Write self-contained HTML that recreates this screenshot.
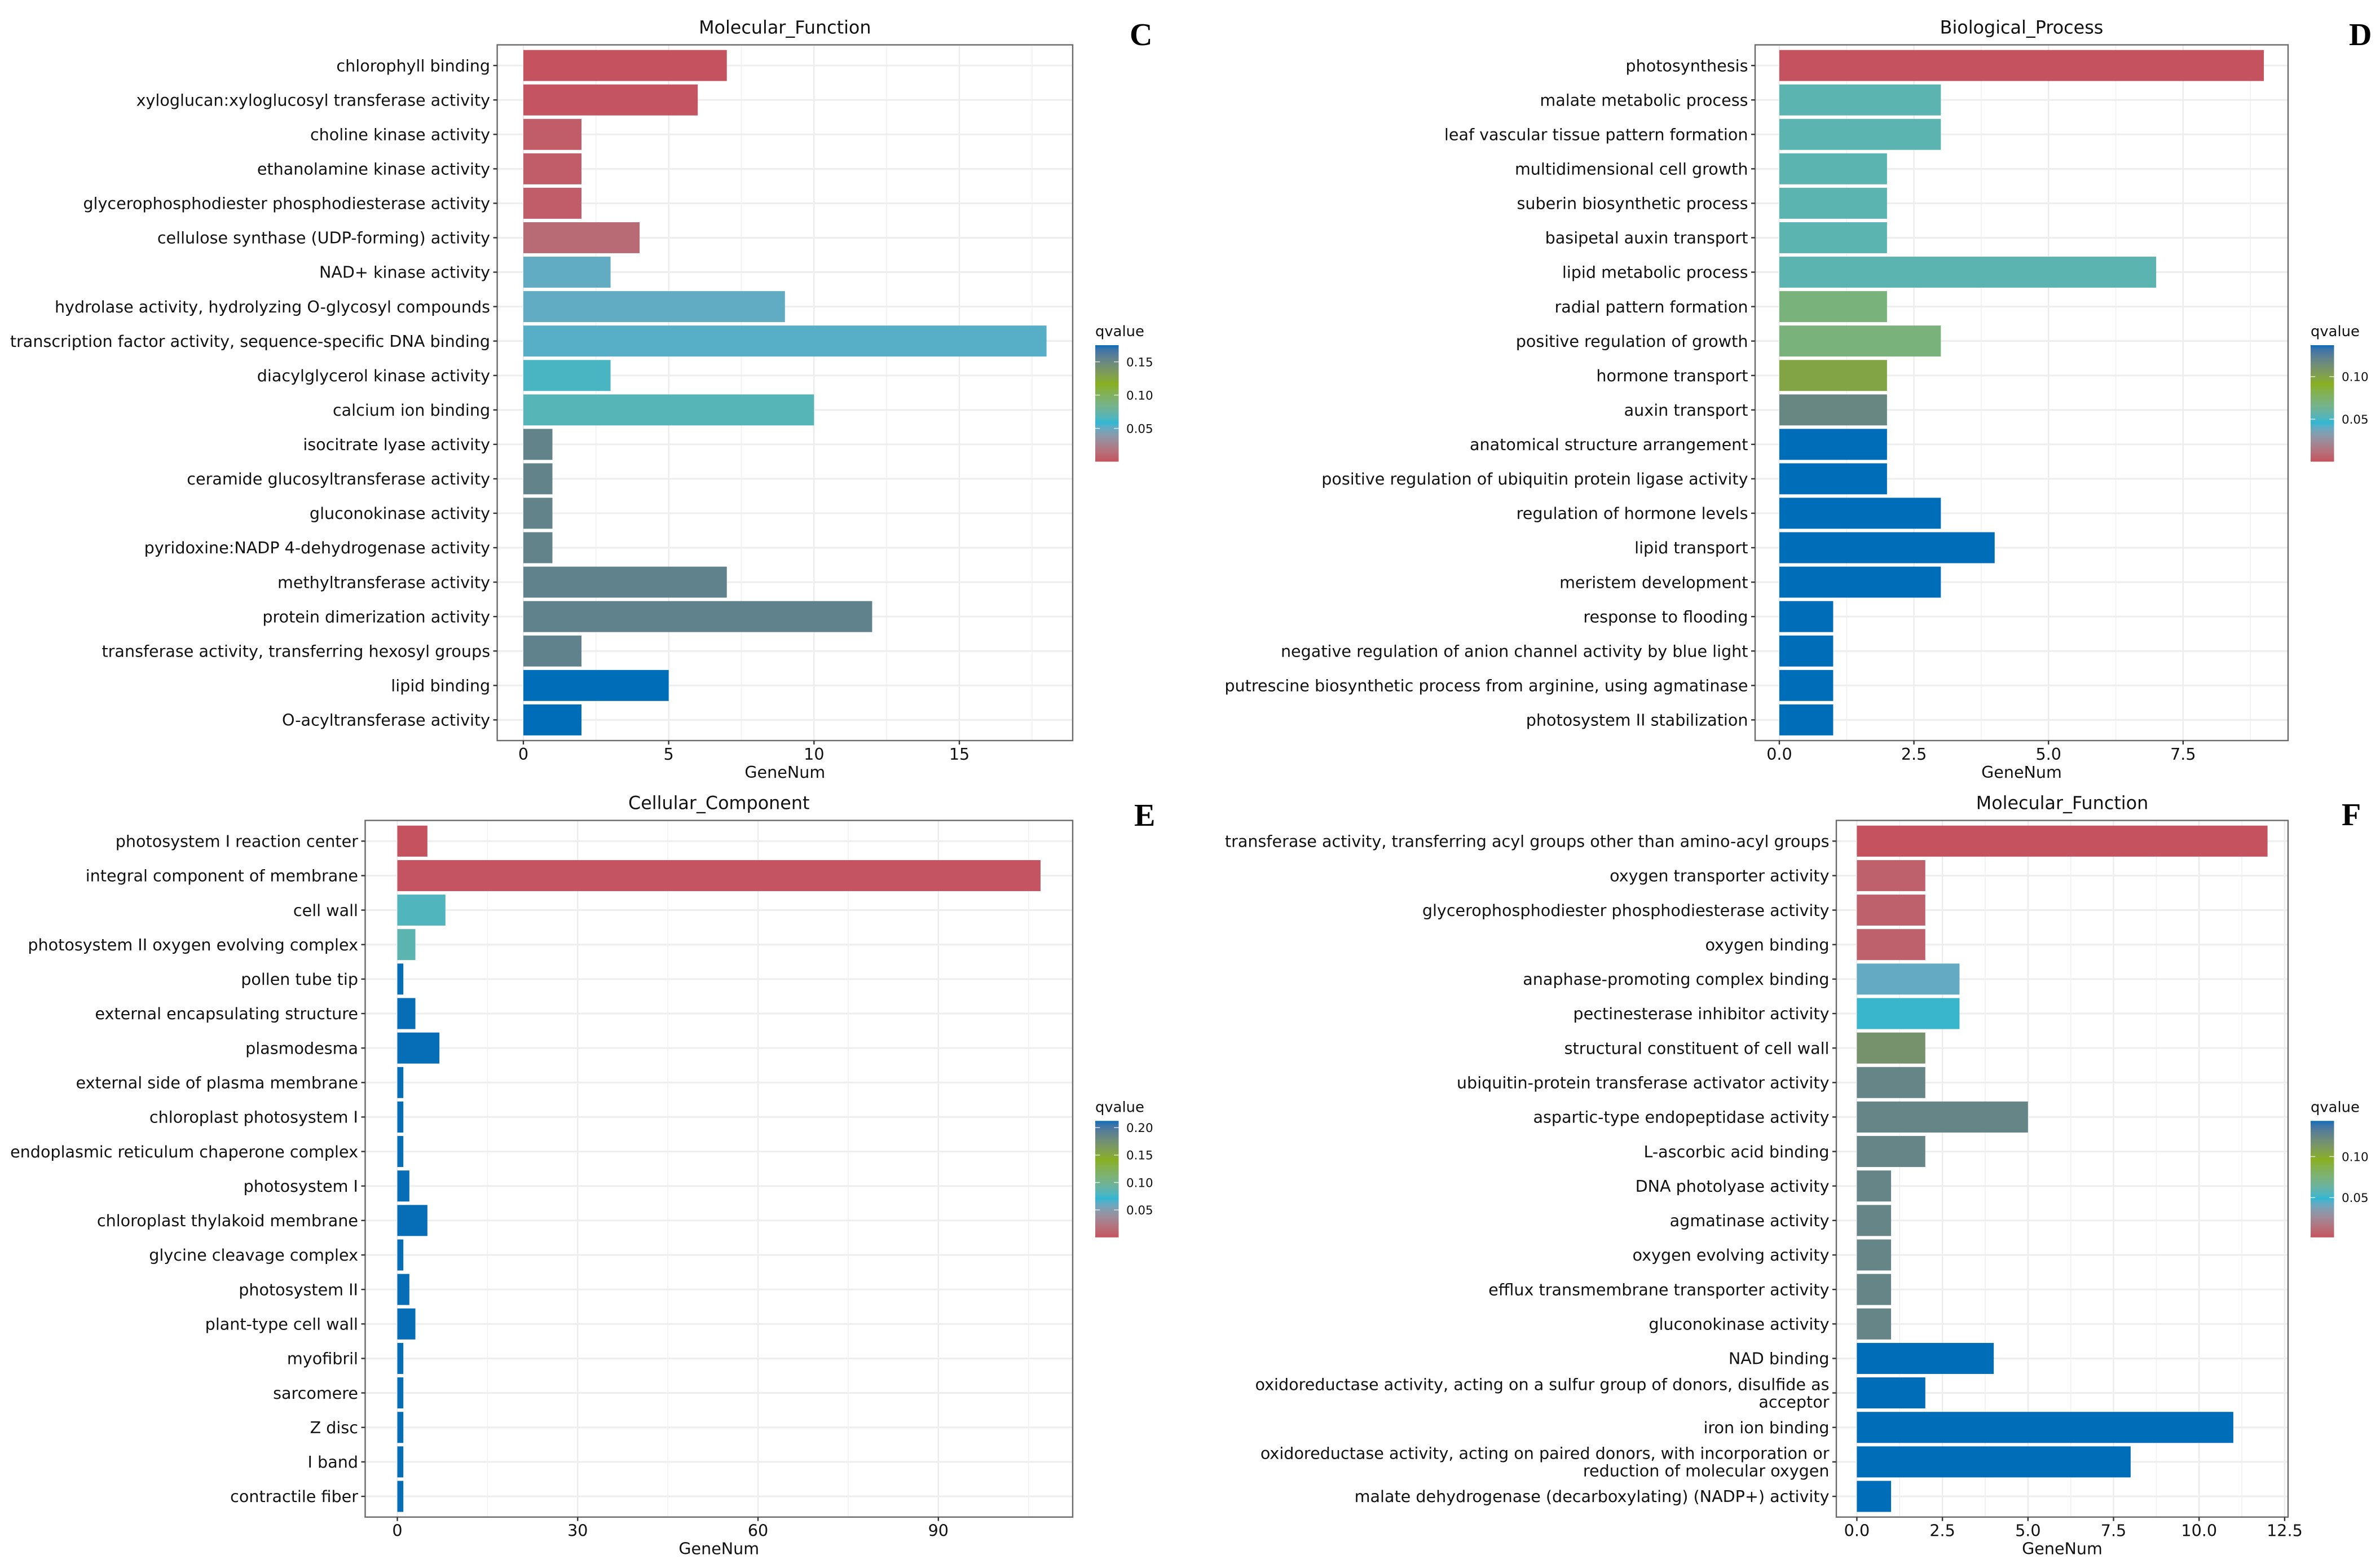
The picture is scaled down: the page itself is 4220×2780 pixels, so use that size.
<!DOCTYPE html>
<html lang="en">
<head>
<meta charset="utf-8">
<title>GO enrichment bar charts</title>
<style>
html,body{margin:0;padding:0;background:#fff;}
svg{display:block;}
text{font-family:"DejaVu Sans",sans-serif;fill:#111;}
.panel-letter{font-family:"Liberation Serif",serif;font-weight:bold;fill:#000;}
</style>
</head>
<body>
<svg id="figure" xmlns="http://www.w3.org/2000/svg" width="4220" height="2780" viewBox="0 0 4220 2780">
  <rect x="0" y="0" width="4220" height="2780" fill="#ffffff"></rect>
  <defs id="defs"></defs>
  <text class="panel-letter" x="2003" y="80" font-size="56">C</text>
  <text class="panel-letter" x="4165" y="80" font-size="56">D</text>
  <text class="panel-letter" x="2011" y="1464" font-size="56">E</text>
  <text class="panel-letter" x="4152" y="1463" font-size="56">F</text>
</svg>
<script>
// ---------- Panel C data ----------
const cCategories = [
  "chlorophyll binding","xyloglucan:xyloglucosyl transferase activity","choline kinase activity",
  "ethanolamine kinase activity","glycerophosphodiester phosphodiesterase activity",
  "cellulose synthase (UDP-forming) activity","NAD+ kinase activity",
  "hydrolase activity, hydrolyzing O-glycosyl compounds",
  "transcription factor activity, sequence-specific DNA binding","diacylglycerol kinase activity",
  "calcium ion binding","isocitrate lyase activity","ceramide glucosyltransferase activity",
  "gluconokinase activity","pyridoxine:NADP 4-dehydrogenase activity","methyltransferase activity",
  "protein dimerization activity","transferase activity, transferring hexosyl groups",
  "lipid binding","O-acyltransferase activity"];
const cValues = [7,6,2,2,2,4,3,9,18,3,10,1,1,1,1,7,12,2,5,2];
const cQvalues = [0,0.001,0.005,0.005,0.005,0.012,0.051,0.051,0.053,0.064,0.068,0.154,0.154,0.154,0.154,0.155,0.155,0.155,0.175,0.175];
const cXTicks = [0,5,10,15];
const cXTickLabels = ["0","5","10","15"];
const cLegendTicks = [0.05,0.10,0.15];
const cLegendTickLabels = ["0.05","0.10","0.15"];

// ---------- Panel D data ----------
const dCategories = [
  "photosynthesis","malate metabolic process","leaf vascular tissue pattern formation",
  "multidimensional cell growth","suberin biosynthetic process","basipetal auxin transport",
  "lipid metabolic process","radial pattern formation","positive regulation of growth",
  "hormone transport","auxin transport","anatomical structure arrangement",
  "positive regulation of ubiquitin protein ligase activity","regulation of hormone levels",
  "lipid transport","meristem development","response to flooding",
  "negative regulation of anion channel activity by blue light",
  "putrescine biosynthetic process from arginine, using agmatinase","photosystem II stabilization"];
const dValues = [9,3,3,2,2,2,7,2,3,2,2,2,2,3,4,3,1,1,1,1];
const dQvalues = [0,0.055,0.055,0.055,0.055,0.055,0.055,0.070,0.070,0.099,0.118,0.137,0.137,0.137,0.137,0.137,0.137,0.137,0.137,0.137];
const dXTicks = [0,2.5,5,7.5];
const dXTickLabels = ["0.0","2.5","5.0","7.5"];
const dLegendTicks = [0.05,0.10];
const dLegendTickLabels = ["0.05","0.10"];

// ---------- Panel E data ----------
const eCategories = [
  "photosystem I reaction center","integral component of membrane","cell wall",
  "photosystem II oxygen evolving complex","pollen tube tip","external encapsulating structure",
  "plasmodesma","external side of plasma membrane","chloroplast photosystem I",
  "endoplasmic reticulum chaperone complex","photosystem I","chloroplast thylakoid membrane",
  "glycine cleavage complex","photosystem II","plant-type cell wall","myofibril","sarcomere",
  "Z disc","I band","contractile fiber"];
const eValues = [5,107,8,3,1,3,7,1,1,1,2,5,1,2,3,1,1,1,1,1];
const eQvalues = [0,0.001,0.080,0.085,0.212,0.212,0.212,0.212,0.212,0.212,0.212,0.212,0.212,0.212,0.212,0.212,0.212,0.212,0.212,0.212];
const eXTicks = [0,30,60,90];
const eXTickLabels = ["0","30","60","90"];
const eLegendTicks = [0.05,0.10,0.15,0.20];
const eLegendTickLabels = ["0.05","0.10","0.15","0.20"];

// ---------- Panel F data ----------
const fCategories = [
  "transferase activity, transferring acyl groups other than amino-acyl groups",
  "oxygen transporter activity","glycerophosphodiester phosphodiesterase activity","oxygen binding",
  "anaphase-promoting complex binding","pectinesterase inhibitor activity",
  "structural constituent of cell wall","ubiquitin-protein transferase activator activity",
  "aspartic-type endopeptidase activity","L-ascorbic acid binding","DNA photolyase activity",
  "agmatinase activity","oxygen evolving activity","efflux transmembrane transporter activity",
  "gluconokinase activity","NAD binding",
  "oxidoreductase activity, acting on a sulfur group of donors, disulfide as\nacceptor",
  "iron ion binding",
  "oxidoreductase activity, acting on paired donors, with incorporation or\nreduction of molecular oxygen",
  "malate dehydrogenase (decarboxylating) (NADP+) activity"];
const fValues = [12,2,2,2,3,3,2,2,5,2,1,1,1,1,1,4,2,11,8,1];
const fQvalues = [0.0016,0.0073,0.0073,0.0073,0.0425,0.0505,0.116,0.125,0.125,0.125,0.125,0.125,0.125,0.125,0.125,0.1434,0.1434,0.1434,0.1434,0.1434];
const fXTicks = [0,2.5,5,7.5,10,12.5];
const fXTickLabels = ["0.0","2.5","5.0","7.5","10.0","12.5"];
const fLegendTicks = [0.05,0.10];
const fLegendTickLabels = ["0.05","0.10"];

// Colour ramp anchors of the qvalue scale (low to high)
const rampColors = ["#c5525f","#2eb6d2","#88b01f","#006db8"];

const SVG_NS = "http://www.w3.org/2000/svg";
const figure = document.getElementById("figure");
const defs = document.getElementById("defs");

function make(tag, parent, geom) {
  const el = document.createElementNS(SVG_NS, tag);
  for (const k in geom) el.setAttribute(k, geom[k]);
  parent.appendChild(el);
  return el;
}

// --- Lab colour interpolation (ggplot-style gradientn) ---
function hexToLab(hex) {
  const c = [1,3,5].map(i => parseInt(hex.substr(i,2),16)/255)
    .map(v => v <= 0.04045 ? v/12.92 : Math.pow((v+0.055)/1.055,2.4));
  const X = (0.4124*c[0]+0.3576*c[1]+0.1805*c[2])/0.95047;
  const Y = 0.2126*c[0]+0.7152*c[1]+0.0722*c[2];
  const Z = (0.0193*c[0]+0.1192*c[1]+0.9505*c[2])/1.08883;
  const f = t => t > 0.008856 ? Math.cbrt(t) : 7.787*t+16/116;
  return [116*f(Y)-16, 500*(f(X)-f(Y)), 200*(f(Y)-f(Z))];
}
function labToRgb(lab) {
  const fy = (lab[0]+16)/116, fx = fy+lab[1]/500, fz = fy-lab[2]/200;
  const g = t => t*t*t > 0.008856 ? t*t*t : (t-16/116)/7.787;
  const X = g(fx)*0.95047, Y = g(fy), Z = g(fz)*1.08883;
  const l = [3.2406*X-1.5372*Y-0.4986*Z, -0.9689*X+1.8758*Y+0.0415*Z, 0.0557*X-0.2040*Y+1.0570*Z];
  const out = l.map(v => {
    const s = v <= 0.0031308 ? 12.92*v : 1.055*Math.pow(Math.max(v,0),1/2.4)-0.055;
    return Math.round(Math.min(1,Math.max(0,s))*255);
  });
  return "rgb("+out.join(",")+")";
}
const rampLab = rampColors.map(hexToLab);
function rampColor(t) {
  const tt = Math.min(1,Math.max(0,t))*(rampLab.length-1);
  const i = Math.min(Math.floor(tt), rampLab.length-2);
  const f = tt-i;
  return labToRgb(rampLab[i].map((v,k) => v+(rampLab[i+1][k]-v)*f));
}

function drawPanel(cfg) {
  const g = make("g", figure, {});
  
  

  const n = cfg.categories.length;
  const maxV = Math.max.apply(null, cfg.values);
  const lo = -0.05*maxV, hi = 1.05*maxV;
  const xScale = v => cfg.left + (v-lo)/(hi-lo)*(cfg.right-cfg.left);
  const step = (cfg.bottom-cfg.top)/(n-1+1.2);
  const yScale = i => cfg.top + 0.6*step + i*step;
  const qScale = q => (q-cfg.qMin)/(cfg.qMax-cfg.qMin);

  // panel background
  const bg = make("rect", g, {x:cfg.left,y:cfg.top,width:cfg.right-cfg.left,height:cfg.bottom-cfg.top,fill:"#fff"});
  
  

  // minor vertical grid
  const tickStep = cfg.xTicks[1]-cfg.xTicks[0];
  cfg.xTicks.concat([cfg.xTicks[cfg.xTicks.length-1]+tickStep]).forEach(t => {
    const m = t-tickStep/2;
    if (m < lo || m > hi) return;
    const line = make("line", g, {x1:xScale(m),x2:xScale(m),y1:cfg.top,y2:cfg.bottom,stroke:"#f1f1f1","stroke-width":1.6});
    
    
  });
  // major vertical grid
  cfg.xTicks.forEach(t => {
    const line = make("line", g, {x1:xScale(t),x2:xScale(t),y1:cfg.top,y2:cfg.bottom,stroke:"#ececec","stroke-width":2.4});
    
    
  });
  // horizontal grid
  cfg.categories.forEach((c,i) => {
    const line = make("line", g, {x1:cfg.left,x2:cfg.right,y1:yScale(i),y2:yScale(i),stroke:"#eeeeee","stroke-width":3});
    
    
  });

  // bars
  const barH = 0.9*step;
  cfg.values.forEach((v,i) => {
    const bar = make("rect", g, {
      x:xScale(0), y:yScale(i)-barH/2, width:xScale(v)-xScale(0), height:barH,
      fill:rampColor(qScale(cfg.qvalues[i]))
    });
    
    
  });

  // border
  const border = make("rect", g, {x:cfg.left,y:cfg.top,width:cfg.right-cfg.left,height:cfg.bottom-cfg.top,fill:"none",stroke:"#6a6a6a","stroke-width":2.4});
  
  

  // y ticks + labels
  cfg.categories.forEach((c,i) => {
    const y = yScale(i);
    const tick = make("line", g, {x1:cfg.left-7,x2:cfg.left,y1:y,y2:y,stroke:"#333","stroke-width":2.4});
    
    
    const label = make("text", g, {x:cfg.left-12.5,"text-anchor":"end","font-size":cfg.fontSize});
    
    
    const lines = c.split("\n");
    const lh = 31;
    lines.forEach((ln,k) => {
      const ts = make("tspan", label, {x:cfg.left-12.5, y:y+10.2+(k-(lines.length-1)/2)*lh});
      ts.textContent = ln;
    });
  });

  // x ticks + labels
  cfg.xTicks.forEach((t,i) => {
    const x = xScale(t);
    const tick = make("line", g, {x1:x,x2:x,y1:cfg.bottom,y2:cfg.bottom+7,stroke:"#333","stroke-width":2.4});
    
    
    const label = make("text", g, {x:x,y:cfg.bottom+34,"text-anchor":"middle","font-size":cfg.fontSize});
    
    
    label.textContent = cfg.xTickLabels[i];
  });

  // axis title + panel title
  const cx = (cfg.left+cfg.right)/2;
  const xTitle = make("text", g, {x:cx,y:cfg.bottom+66,"text-anchor":"middle","font-size":cfg.fontSize});
  
  
  xTitle.textContent = "GeneNum";
  const title = make("text", g, {x:cx,y:cfg.top-20,"text-anchor":"middle","font-size":31.8});
  
  
  title.textContent = cfg.title;

  // legend
  const gradId = cfg.name + "-ramp";
  const grad = make("linearGradient", defs, {id:gradId,x1:0,y1:1,x2:0,y2:0});
  for (let s = 0; s <= 60; s++) {
    make("stop", grad, {offset:(s/60).toFixed(4),"stop-color":rampColor(s/60)});
  }
  const lx = cfg.right+40, lw = 41.5;
  const ltop = cfg.top + cfg.legendOffset, lh = 206.5;
  const lScale = q => ltop+lh-qScale(q)*lh;
  const lTitle = make("text", g, {x:lx,y:ltop-16,"font-size":25.8});
  
  
  lTitle.textContent = "qvalue";
  const bar = make("rect", g, {x:lx,y:ltop,width:lw,height:lh,fill:"url(#"+gradId+")"});
  
  
  cfg.legendTicks.forEach((q,i) => {
    const y = lScale(q);
    const t1 = make("line", g, {x1:lx,x2:lx+8.3,y1:y,y2:y,stroke:"#fff","stroke-width":1.5,"stroke-opacity":0.75});
    
    
    const t2 = make("line", g, {x1:lx+lw-8.3,x2:lx+lw,y1:y,y2:y,stroke:"#fff","stroke-width":1.5,"stroke-opacity":0.75});
    
    
    const lab = make("text", g, {x:lx+55,y:y+7.8,"font-size":21.4});
    
    
    lab.textContent = cfg.legendTickLabels[i];
  });
}

drawPanel({name:"panel-c",title:"Molecular_Function",left:881.6,right:1902,top:79.5,bottom:1313,fontSize:28.6,legendOffset:532.5,
  categories:cCategories,values:cValues,qvalues:cQvalues,xTicks:cXTicks,xTickLabels:cXTickLabels,
  qMin:0,qMax:0.175,legendTicks:cLegendTicks,legendTickLabels:cLegendTickLabels});
drawPanel({name:"panel-d",title:"Biological_Process",left:3112,right:4057,top:79.5,bottom:1313,fontSize:28.6,legendOffset:532.5,
  categories:dCategories,values:dValues,qvalues:dQvalues,xTicks:dXTicks,xTickLabels:dXTickLabels,
  qMin:0,qMax:0.137,legendTicks:dLegendTicks,legendTickLabels:dLegendTickLabels});
drawPanel({name:"panel-e",title:"Cellular_Component",left:647.5,right:1902,top:1454.6,bottom:2689.7,fontSize:28.6,legendOffset:532.7,
  categories:eCategories,values:eValues,qvalues:eQvalues,xTicks:eXTicks,xTickLabels:eXTickLabels,
  qMin:0,qMax:0.2123,legendTicks:eLegendTicks,legendTickLabels:eLegendTickLabels});
drawPanel({name:"panel-f",title:"Molecular_Function",left:3256,right:4057,top:1454.6,bottom:2689.7,fontSize:28.6,legendOffset:532.7,
  categories:fCategories,values:fValues,qvalues:fQvalues,xTicks:fXTicks,xTickLabels:fXTickLabels,
  qMin:0.0016,qMax:0.1434,legendTicks:fLegendTicks,legendTickLabels:fLegendTickLabels});
</script>
</body>
</html>
